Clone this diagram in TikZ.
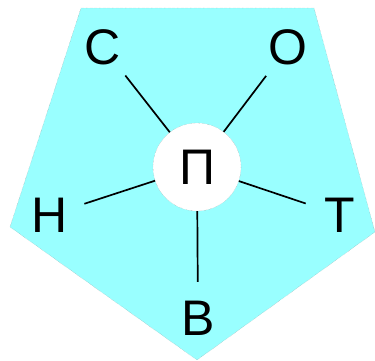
\documentclass[tikz,border=0pt]{standalone}
\usepackage{fontspec}
\setmainfont{Liberation Sans}
\usetikzlibrary{positioning}
\definecolor{paleaqua}{RGB}{153,255,255}
\tikzset{
  letter/.style={
    circle, minimum size=72pt, inner sep=0pt,
    font=\fontsize{50}{50}\selectfont
  },
  core/.style={
    circle, fill=white, draw=black!45, densely dotted, line width=0.3pt,
    minimum size=88pt, inner sep=0pt,
    font=\fontsize{50}{50}\selectfont
  },
  spoke/.style={line width=1.7pt, color=black},
}

\begin{document}
\begin{tikzpicture}[x=1pt, y=-1pt]

  \useasboundingbox (0,0) rectangle (375,360);

  % Pentagon
  \filldraw[fill=paleaqua, draw=black!45, densely dotted, line width=0.3pt]
    (81,8) -- (314,8) -- (375,232) -- (197,360) -- (10,227) -- cycle;

  % Centre
  \node[core] (p) at (197,167) {П};

  % Letters round it
  \node[letter] (c) at (103,47)  {С};
  \node[letter] (o) at (288,47)  {О};
  \node[letter] (n) at (50,215)  {Н};
  \node[letter] (t) at (340,215) {Т};
  \node[letter] (v) at (198,318) {В};

  % Spokes
  \foreach \s in {c,o,n,t,v}
    \draw[spoke] (p) -- (\s);

\end{tikzpicture}
\end{document}
